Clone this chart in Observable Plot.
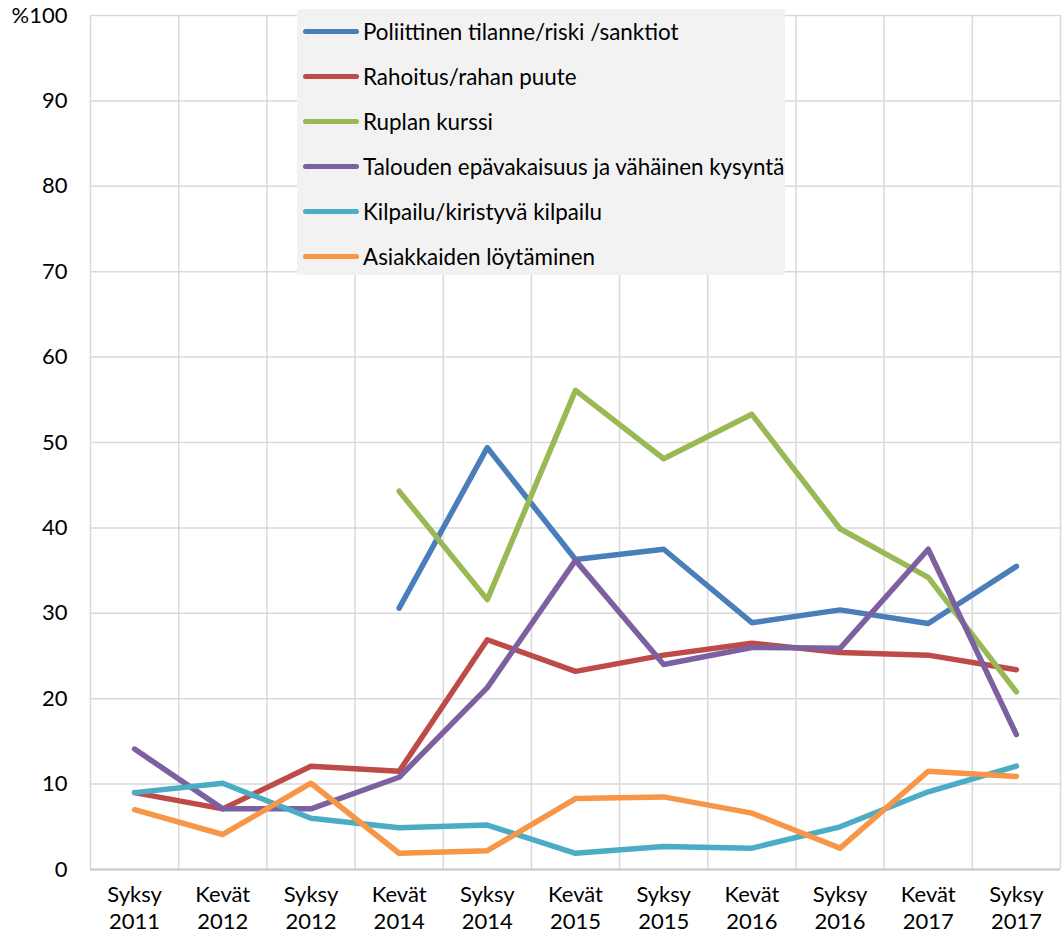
<!DOCTYPE html>
<html><head><meta charset="utf-8">
<script src="https://cdn.jsdelivr.net/npm/d3@7"></script>
<script src="https://cdn.jsdelivr.net/npm/@observablehq/plot@0.6"></script>
<style>
body{margin:0;background:#fff;font-family:Lato,sans-serif;}
#wrap{position:relative;width:1062px;height:939px;}
#legend{position:absolute;left:297px;top:9px;width:488px;height:266px;background:#f2f2f2;overflow:hidden;}
.item{position:absolute;left:6px;height:24px;display:flex;align-items:center;font-size:22.4px;color:#000;white-space:nowrap;font-family:Lato,sans-serif;}
.sw{width:56px;height:5px;border-radius:3px;margin-right:4px;flex:none;}
</style></head><body><div id="wrap"><div id="legend"></div></div>
<script>
const categories = ["Syksy 2011","Kevät 2012","Syksy 2012","Kevät 2014","Syksy 2014","Kevät 2015","Syksy 2015","Kevät 2016","Syksy 2016","Kevät 2017","Syksy 2017"];
const seriesNames = ["Poliittinen tilanne/riski /sanktiot","Rahoitus/rahan puute","Ruplan kurssi","Talouden epävakaisuus ja vähäinen kysyntä","Kilpailu/kiristyvä kilpailu","Asiakkaiden löytäminen"];
const colors = ["#4a7ebb","#be4b48","#98b954","#7d60a0","#4bacc6","#f79646"];
const poliittinen = [null,null,null,30.6,49.4,36.3,37.5,28.9,30.4,28.8,35.5];
const rahoitus = [9.0,7.1,12.1,11.5,26.9,23.2,25.1,26.5,25.4,25.1,23.4];
const rupla = [null,null,null,44.3,31.6,56.1,48.1,53.3,39.9,34.2,20.8];
const talous = [14.1,7.1,7.1,10.8,21.3,36.2,24.0,26.0,25.9,37.5,15.8];
const kilpailu = [9.0,10.1,6.0,4.9,5.2,1.9,2.7,2.5,5.0,9.1,12.1];
const asiakkaat = [7.0,4.1,10.1,1.9,2.2,8.3,8.5,6.6,2.5,11.5,10.9];
const yTicks = [0,10,20,30,40,50,60,70,80,90,100];

const allSeries = [poliittinen, rahoitus, rupla, talous, kilpailu, asiakkaat];
const data = [];
allSeries.forEach((arr, s) => arr.forEach((v, i) => {
  if (v != null) data.push({series: seriesNames[s], i, value: v});
}));

const gridX = d3.range(categories.length + 1).map(k => k - 0.5);

const chart = Plot.plot({
  width: 1062, height: 939,
  marginLeft: 90, marginRight: 2, marginTop: 15, marginBottom: 70,
  x: {domain: [-0.5, categories.length - 0.5], axis: null},
  y: {domain: [0, 100], axis: null},
  color: {domain: seriesNames, range: colors},
  style: {fontFamily: "Lato, sans-serif", fontSize: "22px", color: "#000", background: "white"},
  marks: [
    Plot.ruleX(gridX, {x: d => d, stroke: "#d9d9d9", strokeWidth: 1.5}),
    Plot.ruleY(yTicks, {y: d => d, stroke: "#d9d9d9", strokeWidth: 1.5}),
    Plot.ruleY([0], {stroke: "#c8c8c8", strokeWidth: 2}),
    Plot.text(yTicks, {x: -0.5, y: d => d, text: d => d === 100 ? "%100" : String(d), textAnchor: "end", dx: -23, fill: "#000"}),
    Plot.text(categories, {x: (d, i) => i, y: 0, text: d => d.replace(" ", "\n"), lineAnchor: "top", dy: 14, lineHeight: 1.2, fill: "#000"}),
    Plot.line(data, {x: "i", y: "value", z: "series", stroke: "series", strokeWidth: 5.5, strokeLinecap: "round", strokeLinejoin: "round"})
  ]
});
document.getElementById("wrap").prepend(chart);

const legend = document.getElementById("legend");
seriesNames.forEach((name, k) => {
  const item = document.createElement("div");
  item.className = "item";
  item.style.top = (22 + k * 45 - 12) + "px";
  const sw = document.createElement("span");
  sw.className = "sw";
  sw.style.background = colors[k];
  const t = document.createElement("span");
  t.textContent = name;
  item.append(sw, t);
  legend.append(item);
});
</script>
</body></html>
